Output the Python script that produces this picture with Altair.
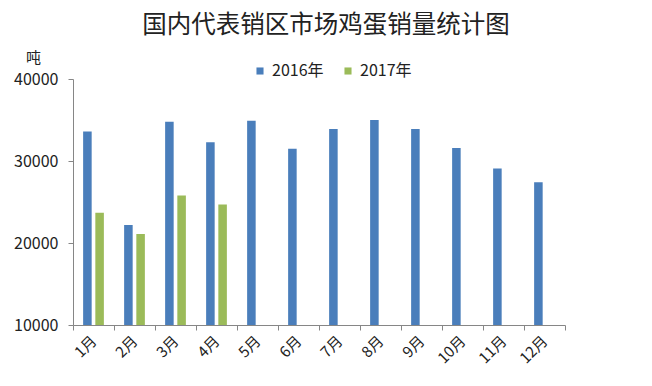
import altair as alt
import pandas as pd

months = ["1月", "2月", "3月", "4月", "5月", "6月", "7月", "8月", "9月", "10月", "11月", "12月"]
years = ["2016年", "2017年"]
v2016 = [33600, 22200, 34800, 32300, 34900, 31500, 33900, 35000, 33900, 31600, 29100, 27400]
v2017 = [23700, 21100, 25800, 24700]
y_ticks = [10000, 20000, 30000, 40000]
colors = ["#4A7EBB", "#9BBB59"]

rows = []
for m, v in zip(months, v2016):
    rows.append({"month": m, "year": years[0], "value": v})
for m, v in zip(months, v2017):
    rows.append({"month": m, "year": years[1], "value": v})
df = pd.DataFrame(rows)

FONT = "Noto Sans CJK SC"

chart = alt.Chart(df).mark_bar().encode(
    x=alt.X("month:N", sort=months,
            scale=alt.Scale(paddingInner=0, paddingOuter=0),
            axis=alt.Axis(title=None, labelAngle=-45, tickBand="extent",
                          labelAlign="right", labelBaseline="middle",
                          labelFontSize=15, labelFont=FONT, labelColor="#222222",
                          tickSize=5, tickColor="#868686", domainColor="#868686",
                          labelPadding=8)),
    xOffset=alt.XOffset("year:N", scale=alt.Scale(domain=years, paddingInner=0.3, paddingOuter=0.83)),
    y=alt.Y("value:Q",
            scale=alt.Scale(domain=[10000, 40000], zero=False, nice=False),
            axis=alt.Axis(values=y_ticks, format="d", grid=False, title="吨", titleAngle=0,
                          titleX=-40, titleY=-14, titleAlign="center", titleBaseline="bottom",
                          titleFont=FONT, titleFontSize=15, titleFontWeight="normal",
                          titleColor="#222222",
                          labelFontSize=16, labelFont=FONT, labelColor="#222222",
                          tickSize=5, tickColor="#868686", domainColor="#868686",
                          labelPadding=10)),
    y2=alt.datum(10000),
    color=alt.Color("year:N", scale=alt.Scale(domain=years, range=colors),
                    legend=alt.Legend(title=None, orient="none", legendX=179, legendY=-16,
                                      direction="horizontal", symbolType="square",
                                      symbolSize=50, symbolStrokeWidth=0,
                                      labelFont=FONT, labelFontSize=16, labelColor="#222222",
                                      columnPadding=16, labelOffset=4)),
).properties(
    width=492,
    height=246,
    autosize=alt.AutoSizeParams(type="none"),
    padding={"left": 65, "top": 71, "right": 75, "bottom": 50},
    title=alt.TitleParams("国内代表销区市场鸡蛋销量统计图", font=FONT, fontSize=24.5,
                          fontWeight="normal", color="#222222", anchor="middle", offset=12, dx=7),
).configure_view(stroke=None)

chart.save("out.html", embed_options={"renderer": "svg", "actions": False})
